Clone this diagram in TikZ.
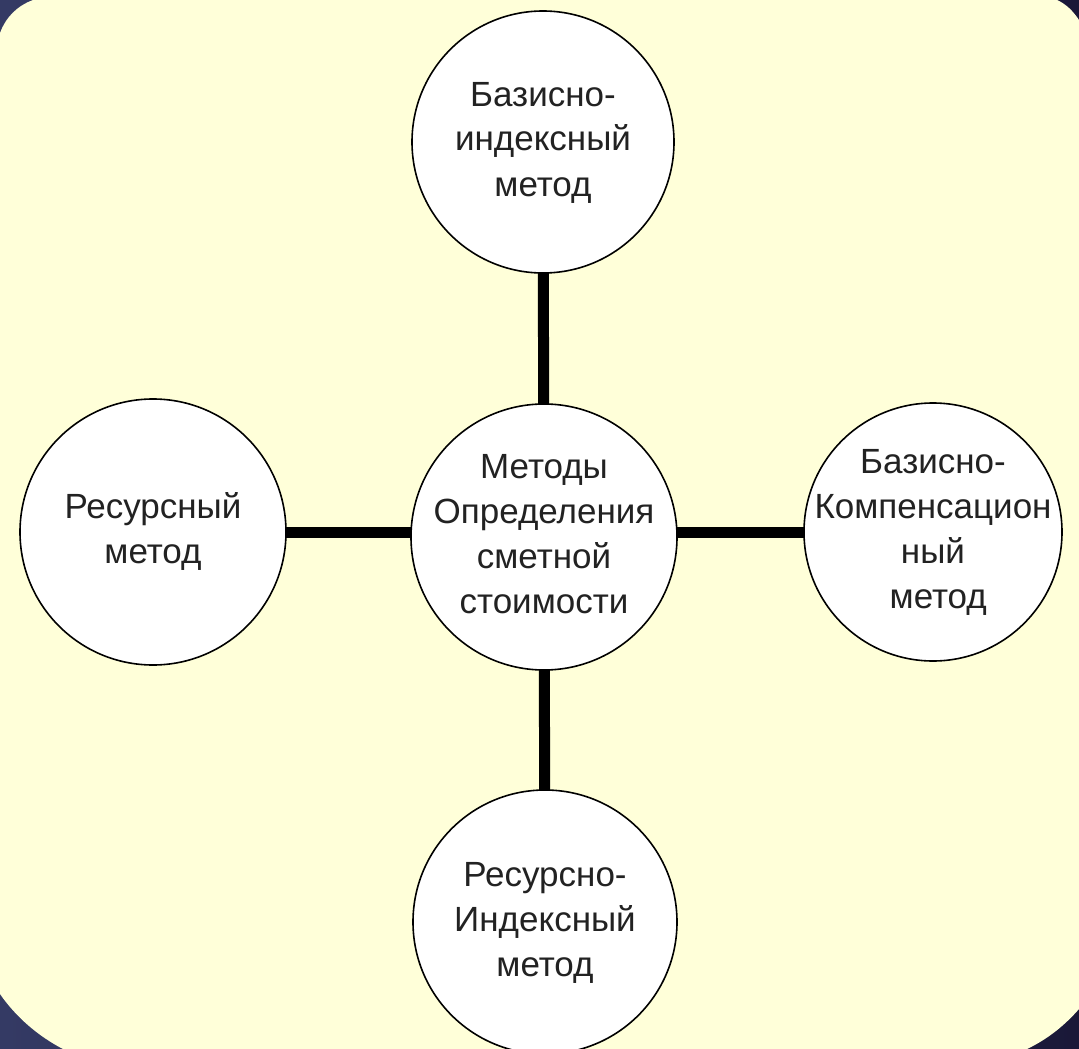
\documentclass[tikz,border=0pt]{standalone}
\usepackage{fontspec}
\setmainfont{Liberation Sans}
\pgfdeclarelayer{back}
\pgfdeclarelayer{bg}
\pgfsetlayers{back,bg,main}
\definecolor{navyL}{HTML}{343A64}
\definecolor{navyR}{HTML}{1A1838}
\definecolor{paper}{HTML}{FFFFD9}
\definecolor{txt}{HTML}{222222}
\newcommand{\ctxt}[1]{\makebox[0pt]{\begin{tabular}{@{}c@{}}#1\end{tabular}}}
\tikzset{
  method/.style={circle, draw=black, line width=1.6pt, fill=white, inner sep=0pt,
    minimum size=264pt, align=center, text=txt,
    font=\fontsize{35}{45}\selectfont},
  conn/.style={line width=11pt, draw=black}
}
\begin{document}
\begin{tikzpicture}[x=1pt,y=-1pt]
\useasboundingbox (0,0) rectangle (1079,1049);
\clip (0,0) rectangle (1079,1049);
\begin{pgfonlayer}{back}
% dark backdrop
\shade[left color=navyL, right color=navyR] (0,0) rectangle (1079,1049);
% yellow panel with cut corners
\fill[paper] (0,33) .. controls (6,17) and (17,6) .. (33,0)
  -- (1057,0) .. controls (1066,4) and (1073,11) .. (1079,20)
  -- (1079,1009) .. controls (1065,1025) and (1048,1039) .. (1027,1049)
  -- (63,1049) .. controls (38,1036) and (16,1017) .. (0,994) -- cycle;
\end{pgfonlayer}
% nodes
\node[method, minimum size=266pt] (c) at (544,537) {\ctxt{Методы\\Определения\\сметной\\стоимости}};
\node[method, minimum size=262pt] (top) at (543,142) {\ctxt{Базисно-\\индексный\\метод}};
\node[method, minimum size=266pt] (left) at (153,532) {\ctxt{Ресурсный\\метод}};
\node[method, minimum size=258pt] (right) at (933,532) {\ctxt{Базисно-\\Компенсацион\\ный\\\hspace{0.3em}метод}};
\node[method, minimum size=264pt] (bot) at (545,922) {\ctxt{Ресурсно-\\Индексный\\метод}};
\begin{pgfonlayer}{bg}
\draw[conn] (c.center) -- (top.center);
\draw[conn] (c.center) -- (bot.center);
\draw[conn] (left.center) -- (left.center -| c.center);
\draw[conn] (c.center) -- (right.center -| c.center) -- (right.center);
\end{pgfonlayer}
\end{tikzpicture}
\end{document}
